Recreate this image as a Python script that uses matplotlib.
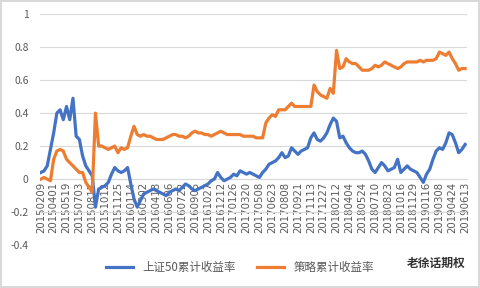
import matplotlib
matplotlib.use("Agg")
from matplotlib import pyplot as plt

plt.rcParams['font.family'] = ['Noto Sans CJK SC', 'DejaVu Sans']

# tick labels, one every 4 readings
dates = ['20150209', '20150401', '20150519', '20150703', '20150817', '20151012',
         '20151125', '20160114', '20160302', '20160418', '20160606', '20160722',
         '20160905', '20161027', '20161212', '20170126', '20170320', '20170508',
         '20170623', '20170808', '20170921', '20171113', '20171227', '20180212',
         '20180404', '20180524', '20180710', '20180823', '20181016', '20181129',
         '20190116', '20190308', '20190424', '20190613']

# values
sz50 = [0.04, 0.05, 0.08, 0.18, 0.28, 0.40, 0.42, 0.36, 0.44, 0.36,
        0.49, 0.26, 0.24, 0.14, 0.08, 0.05, 0.02, -0.17, -0.06, -0.05,
        -0.04, -0.02, 0.03, 0.07, 0.05, 0.04, 0.05, 0.07, -0.03, -0.12,
        -0.17, -0.13, -0.09, -0.08, -0.07, -0.06, -0.07, -0.08, -0.09, -0.10,
        -0.08, -0.07, -0.06, -0.07, -0.05, -0.03, -0.04, -0.06, -0.07, -0.06,
        -0.05, -0.04, -0.03, -0.01, 0.00, 0.04, 0.01, -0.01, 0.00, 0.01,
        0.03, 0.02, 0.05, 0.04, 0.03, 0.04, 0.03, 0.02, 0.01, 0.04,
        0.06, 0.09, 0.10, 0.11, 0.13, 0.16, 0.13, 0.14, 0.19, 0.17,
        0.15, 0.17, 0.18, 0.19, 0.25, 0.28, 0.24, 0.23, 0.25, 0.28,
        0.33, 0.37, 0.35, 0.25, 0.26, 0.22, 0.19, 0.17, 0.16, 0.16,
        0.17, 0.15, 0.11, 0.06, 0.04, 0.07, 0.10, 0.08, 0.05, 0.06,
        0.07, 0.12, 0.04, 0.06, 0.08, 0.06, 0.05, 0.04, 0.01, -0.02,
        0.03, 0.06, 0.12, 0.17, 0.19, 0.18, 0.22, 0.28, 0.27, 0.22,
        0.16, 0.18, 0.21]

strategy = [0.00, 0.01, 0.00, -0.01, 0.12, 0.17, 0.18, 0.17, 0.12, 0.10,
            0.08, 0.06, 0.04, 0.04, -0.02, -0.05, -0.08, 0.40, 0.20, 0.20,
            0.19, 0.18, 0.19, 0.20, 0.16, 0.19, 0.18, 0.19, 0.26, 0.32,
            0.27, 0.26, 0.27, 0.26, 0.26, 0.25, 0.24, 0.24, 0.24, 0.25,
            0.26, 0.27, 0.27, 0.26, 0.26, 0.25, 0.26, 0.28, 0.29, 0.28,
            0.28, 0.27, 0.27, 0.26, 0.27, 0.28, 0.29, 0.28, 0.27, 0.27,
            0.27, 0.27, 0.27, 0.26, 0.26, 0.26, 0.26, 0.25, 0.25, 0.25,
            0.34, 0.37, 0.39, 0.38, 0.42, 0.42, 0.42, 0.44, 0.46, 0.44,
            0.44, 0.44, 0.44, 0.44, 0.44, 0.57, 0.53, 0.51, 0.50, 0.49,
            0.55, 0.52, 0.78, 0.67, 0.68, 0.73, 0.71, 0.70, 0.70, 0.68,
            0.66, 0.66, 0.66, 0.67, 0.69, 0.68, 0.69, 0.71, 0.70, 0.69,
            0.68, 0.67, 0.68, 0.70, 0.71, 0.71, 0.71, 0.71, 0.72, 0.71,
            0.72, 0.72, 0.72, 0.73, 0.77, 0.76, 0.75, 0.77, 0.73, 0.70,
            0.66, 0.67, 0.67]

grey = '#595959'
fig = plt.figure(figsize=(4.8, 2.88), dpi=100)
fig.patch.set_edgecolor('#D9D9D9')
fig.patch.set_linewidth(1.5)
ax = fig.add_axes([0.083, 0.149, 0.89, 0.802])

# axis line sits at zero, like the Excel chart (set before ticks, it resets them)
for s in ['top', 'right', 'left']:
    ax.spines[s].set_visible(False)
ax.spines['bottom'].set_position(('data', 0))
ax.spines['bottom'].set_color('#D9D9D9')
ax.spines['bottom'].set_zorder(0)

x = range(len(sz50))
ax.plot(x, sz50, color='#4472C4', lw=2.3, label='上证50累计收益率')
ax.plot(x, strategy, color='#ED7D31', lw=2.3, label='策略累计收益率')

ax.set_ylim(-0.4, 1.0)
ax.set_yticks([-0.4, -0.2, 0, 0.2, 0.4, 0.6, 0.8, 1])
ax.set_yticklabels(['-0.4', '-0.2', '0', '0.2', '0.4', '0.6', '0.8', '1'])
ax.set_xlim(-0.3, len(sz50) - 0.4)
ax.set_xticks(range(0, len(sz50), 4))
ax.set_xticklabels(dates, rotation=90, fontsize=7.3, color=grey,
                   family='DejaVu Sans')
ax.tick_params(axis='y', length=0, labelsize=7.5, labelcolor=grey, pad=8)
ax.tick_params(axis='x', length=0, pad=2)
ax.grid(axis='y', color='#D9D9D9', lw=0.8)
ax.set_axisbelow(True)

fig.legend(loc='center', bbox_to_anchor=(0.5, 0.07), ncol=2, frameon=False,
           fontsize=8.3, handlelength=2.4, columnspacing=1.8,
           labelcolor=grey)
fig.text(0.97, 0.085, '老徐话期权', ha='right', va='center', fontsize=8.5,
         color='#333333', fontweight='bold')

plt.savefig('out.png', dpi=100)
